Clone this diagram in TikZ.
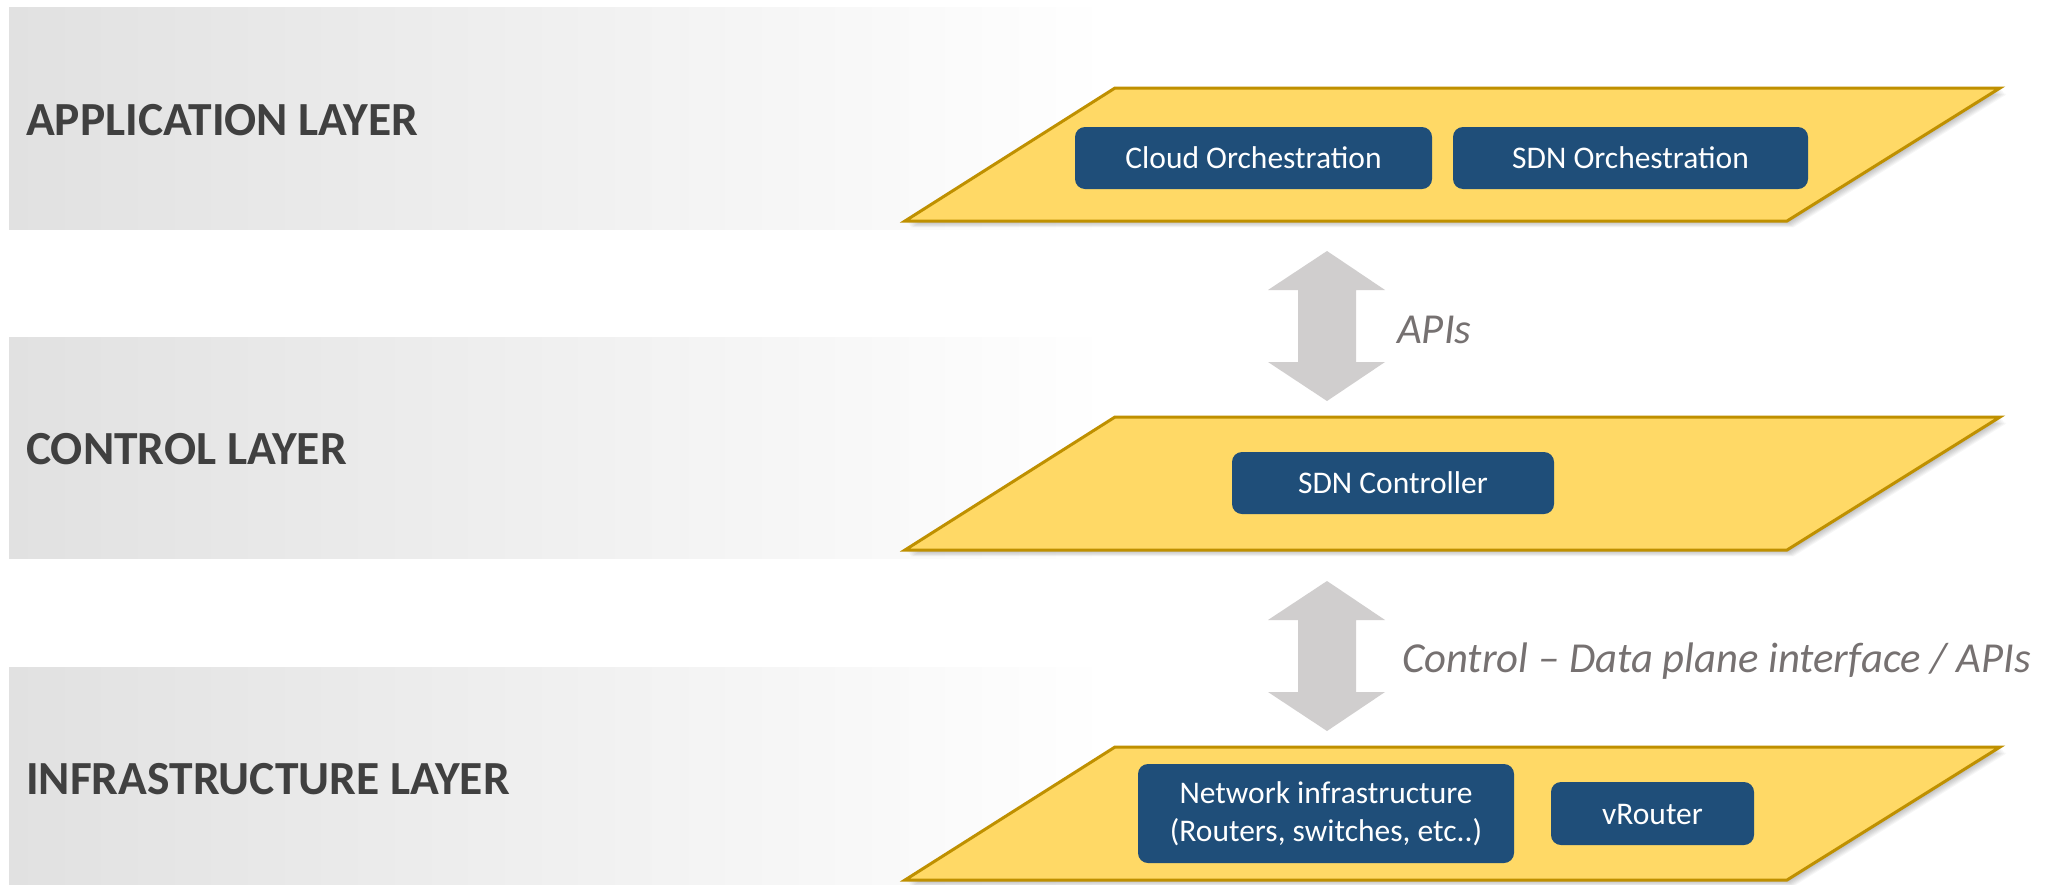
\documentclass[tikz,border=0pt]{standalone}
\usepackage{fontspec}
\setmainfont{Carlito}

\definecolor{planefill}{HTML}{FFD966}
\definecolor{planeline}{HTML}{BF9000}
\definecolor{boxblue}{HTML}{1F4E79}
\definecolor{arrowgray}{HTML}{D0CECE}
\definecolor{layertext}{HTML}{404040}
\definecolor{apitext}{HTML}{767171}
\definecolor{bandgray}{HTML}{E1E1E1}

\tikzset{
  layerlabel/.style={anchor=base west, inner sep=0pt, text=layertext,
    font=\fontsize{47.5}{56}\selectfont\bfseries},
  apilabel/.style={anchor=base west, inner sep=0pt, text=apitext,
    font=\fontsize{42.7}{50}\selectfont\itshape},
  bluebox/.style={fill=boxblue, rounded corners=10pt, text=white, align=center,
    inner sep=0pt, font=\fontsize{31.5}{38}\selectfont},
  oneline/.style={text height=21pt, text depth=0pt},
  plane/.style={fill=planefill, draw=planeline, line width=3pt, line join=miter},
  planeshadow/.style={fill=black, opacity=0.035},
  band/.style={left color=bandgray, right color=white},
}

% one slanted layer plane with a soft shadow; #1 = name, #2 = top edge
\newcommand\layerplane[2]{%
  \begin{scope}[shift={(0,#2)}]
    \foreach \k in {1,...,8}
      \fill[planeshadow] (1115+\k*0.8,\k*0.8) -- (2000+\k*0.8,\k*0.8)
        -- (1787+\k*0.8,133+\k*0.8) -- (905+\k*0.8,133+\k*0.8) -- cycle;
    \draw[plane] (1115,0) coordinate (#1-tl) -- (2000,0) coordinate (#1-tr)
      -- (1787,133) coordinate (#1-br) -- (905,133) coordinate (#1-bl) -- cycle;
  \end{scope}
}

% two-headed block arrow; #1 = name, #2 = upper tip
\newcommand\blockarrow[2]{%
  \fill[arrowgray] (1327,#2) coordinate (#1-top)
    -- (1385,#2+39) -- (1356,#2+39) -- (1356,#2+111) -- (1385,#2+111)
    -- (1327,#2+150) coordinate (#1-bottom)
    -- (1268,#2+111) -- (1298,#2+111) -- (1298,#2+39) -- (1268,#2+39) -- cycle;
}

\begin{document}
\begin{tikzpicture}[x=1pt, y=-1pt]
  \useasboundingbox (0,0) rectangle (2051,884);
  \clip (0,0) rectangle (2051,884);
  \fill[white] (0,0) rectangle (2051,884);

  % grey layer bands
  \shade[band] (9,7) rectangle (1110,229);
  \shade[band] (9,337) rectangle (1110,558);
  \shade[band] (9,667) rectangle (1110,900);

  % layer titles
  \node[layerlabel] (applabel) at (26,135) {APPLICATION LAYER};
  \node[layerlabel] (ctrllabel) at (26,464) {CONTROL LAYER};
  \node[layerlabel] (infralabel) at (26,794) {INFRASTRUCTURE LAYER};

  % planes
  \layerplane{app}{88}
  \layerplane{ctrl}{417}
  \layerplane{infra}{747}

  % application layer
  \node[bluebox, oneline, minimum width=357pt, minimum height=62pt]
    (cloud) at (1253.5,158) {Cloud Orchestration};
  \node[bluebox, oneline, minimum width=355pt, minimum height=62pt]
    (sdnorch) at (1630.5,158) {SDN Orchestration};

  % control layer
  \node[bluebox, oneline, minimum width=322pt, minimum height=62pt]
    (controller) at (1393,483) {SDN Controller};

  % infrastructure layer
  \node[bluebox, minimum width=376pt, minimum height=99pt]
    (netinfra) at (1326,813.5) {Network infrastructure\\(Routers, switches, etc..)};
  \node[bluebox, oneline, minimum width=203pt, minimum height=63pt]
    (vrouter) at (1652.5,813.5) {vRouter};

  % interfaces between the layers
  \blockarrow{north}{251}
  \blockarrow{south}{581}
  \node[apilabel] (northapi) at (1397,343) {APIs};
  \node[apilabel] (southapi) at (1402,672) {Control – Data plane interface / APIs};
\end{tikzpicture}
\end{document}
